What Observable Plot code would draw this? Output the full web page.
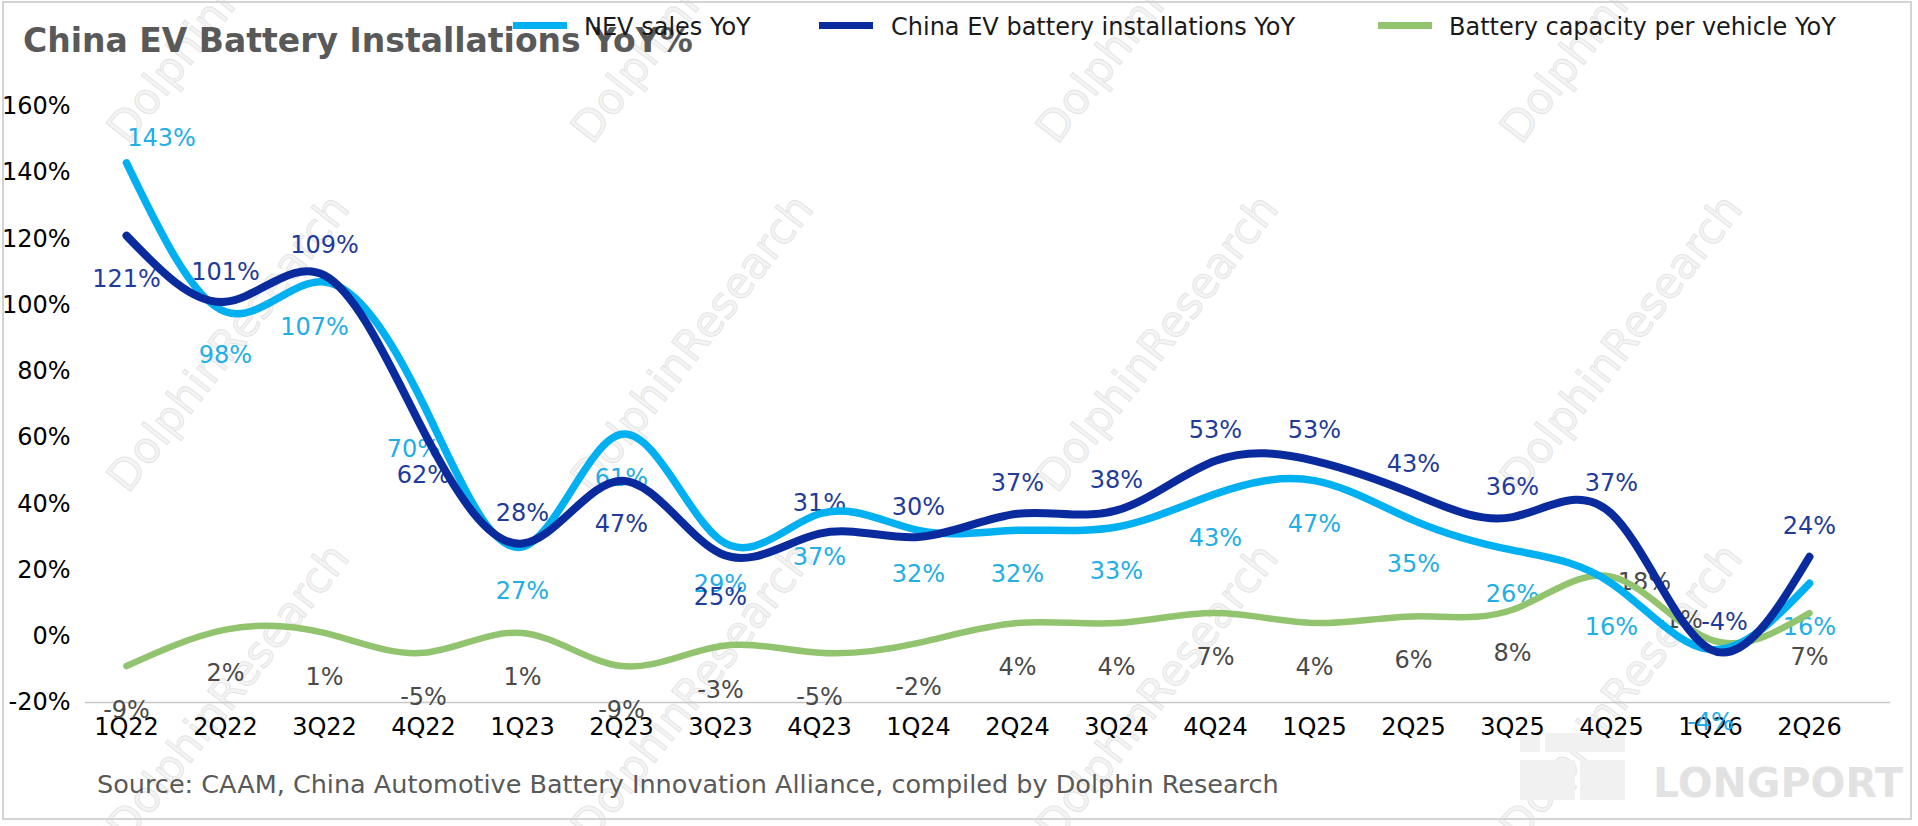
<!DOCTYPE html>
<html>
<head>
<meta charset="utf-8">
<script src="https://cdn.jsdelivr.net/npm/d3@7"></script>
<script src="https://cdn.jsdelivr.net/npm/@observablehq/plot@0.6"></script>
<style>
  html, body { margin: 0; padding: 0; background: #fff; }
  body { width: 1918px; height: 826px; overflow: hidden; font-family: "DejaVu Sans", sans-serif; }
  #wrap { position: relative; width: 1918px; height: 826px; }
  #wm { position: absolute; left: 0; top: 0; width: 1918px; height: 826px; overflow: hidden; z-index: 0; }
  .wmt { position: absolute; font-size: 43px; line-height: 43px; color: #f4f4f4; -webkit-text-stroke: 0.8px #e3e3e3; white-space: nowrap; transform: translate(-50%, -50%) rotate(-52deg); }
  #frame { position: absolute; left: 2px; top: 1px; width: 1906px; height: 815px; border: 2px solid #d4d4d4; pointer-events: none; z-index: 3; }
  #header { position: relative; height: 80px; z-index: 1; }
  #title { position: absolute; left: 23px; top: 24px; font-size: 33px; line-height: 33px; font-weight: bold; color: #595959; white-space: nowrap; }
  .leg { position: absolute; top: 15px; font-size: 24px; line-height: 24px; color: #1a1a1a; white-space: nowrap; }
  .sw { position: absolute; top: 22px; width: 54px; height: 7px; }
  #chart { position: relative; z-index: 1; }
  #footer { position: relative; height: 66px; z-index: 1; }
  #source { position: absolute; left: 97px; top: 12px; font-size: 25.5px; line-height: 25.5px; color: #595959; white-space: nowrap; }
  #lp { position: absolute; left: 1653px; top: 763px; font-size: 41px; line-height: 41px; font-weight: bold; color: #e2e2e2; white-space: nowrap; z-index: 2; }
  .lpb { position: absolute; background: #f1f1f1; z-index: 0; }
  #chart svg { display: block; }
</style>
</head>
<body>
<div id="wrap">
  <div id="wm"></div>
  <div class="lpb" style="left:1520px;top:733px;width:20px;height:19px"></div>
  <div class="lpb" style="left:1545px;top:733px;width:80px;height:19px"></div>
  <div class="lpb" style="left:1520px;top:760px;width:55px;height:40px"></div>
  <div class="lpb" style="left:1580px;top:760px;width:45px;height:40px"></div>
  <div id="header">
    <div id="title"></div>
  </div>
  <div id="chart"></div>
  <div id="footer"><div id="source"></div></div>
  <div id="lp">LONGPORT</div>
  <div id="frame"></div>
</div>
<script>
// ---- data ----
const titleText = "China EV Battery Installations YoY%";
const sourceText = "Source: CAAM, China Automotive Battery Innovation Alliance, compiled by Dolphin Research";
const watermarkText = "DolphinResearch";
const quarters = ["1Q22","2Q22","3Q22","4Q22","1Q23","2Q23","3Q23","4Q23","1Q24","2Q24","3Q24","4Q24","1Q25","2Q25","3Q25","4Q25","1Q26","2Q26"];
const seriesNames = ["NEV sales YoY", "China EV battery installations YoY", "Battery capacity per vehicle YoY"];
const nevSales   = [143, 98, 107, 70, 27, 61, 29, 37, 32, 32, 33, 43, 47, 35, 26, 16, -4, 16];
const batteryIns = [121, 101, 109, 62, 28, 47, 25, 31, 30, 37, 38, 53, 53, 43, 36, 37, -4, 24];
const capPerVeh  = [-9, 2, 1, -5, 1, -9, -3, -5, -2, 4, 4, 7, 4, 6, 8, 18, -1, 7];
const yTicks = [-20, 0, 20, 40, 60, 80, 100, 120, 140, 160];

// label placement codes (where each data label sits relative to its point)
const nevPos = ["tr","b","bl","bl","b","b","b","b","b","b","b","b","b","b","b","b","bb","b"];
const batPos = ["b","t","t","b","t","b","b","t","t","t","t","t","t","t","t","t","ur","t"];
const capPos = ["b","b","b","b","b","b","b","b","b","b","b","b","b","b","b","r","ul","b"];

// ---- styling ----
const colors = ["#00B0F0", "#0A2B9D", "#92C46F"];
const labelColors = ["#22AEE6", "#1F3B9B", "#4A4A4A"];
const widths = [7.5, 8, 6.5];
const offs = {t:[0,-30], b:[0,44], bb:[0,73], tr:[35,-24], bl:[-10,45], ur:[14,-27], r:[33,6], ul:[-31,-19]};

document.getElementById("title").textContent = titleText;
document.getElementById("source").textContent = sourceText;

// watermark grid (decorative)
const wm = document.getElementById("wm");
[228, 692, 1157, 1621].forEach(cx => [-6, 343, 692].forEach(cy => {
  const s = document.createElement("div");
  s.className = "wmt"; s.style.left = cx + "px"; s.style.top = cy + "px"; s.textContent = watermarkText;
  wm.appendChild(s);
}));

// legend
const header = document.getElementById("header");
const legX = [[513, 584], [819, 891], [1378, 1449]];
seriesNames.forEach((n, i) => {
  const sw = document.createElement("div");
  sw.className = "sw"; sw.style.left = legX[i][0] + "px"; sw.style.background = colors[i];
  header.appendChild(sw);
  const t = document.createElement("div");
  t.className = "leg"; t.style.left = legX[i][1] + "px"; t.textContent = n;
  header.appendChild(t);
});

const allVals = [nevSales, batteryIns, capPerVeh];
const allPos = [nevPos, batPos, capPos];
const rows = [];
allVals.forEach((vals, s) => vals.forEach((v, i) => rows.push({s, q: quarters[i], v, p: allPos[s][i]})));
const bySeries = s => rows.filter(d => d.s === s);

const curve = "natural";
const marks = [
  Plot.ruleY([-20], {stroke: "#c8c8c8", strokeWidth: 1.5})
];
// labels (drawn beneath lines as in the reference)
[2, 0, 1].forEach(s => {
  Object.keys(offs).forEach(code => {
    const data = bySeries(s).filter(d => d.p === code);
    if (!data.length) return;
    marks.push(Plot.text(data, {
      x: "q", y: "v", text: d => `${d.v}%`,
      dx: offs[code][0], dy: offs[code][1],
      fill: labelColors[s], fontSize: 24, textAnchor: "middle", lineAnchor: "middle"
    }));
  });
});
[2, 0, 1].forEach(s => {
  marks.push(Plot.line(bySeries(s), {x: "q", y: "v", stroke: colors[s], strokeWidth: widths[s], curve, strokeLinecap: "round", strokeLinejoin: "round"}));
});

const chart = Plot.plot({
  width: 1918,
  height: 680,
  marginLeft: 85,
  marginRight: 28,
  marginTop: 26,
  marginBottom: 58,
  style: {fontFamily: "DejaVu Sans", fontSize: "24px", color: "#000", background: "transparent", overflow: "visible"},
  x: {type: "point", domain: quarters, range: [124, 1810], padding: 0, label: null},
  y: {domain: [-20, 160], range: [622, 26], label: null},
  axis: null,
  marks: [
    Plot.axisY(yTicks, {tickSize: 0, tickPadding: 15, tickFormat: d => `${d}%`, fontSize: 24, fill: "#000"}),
    Plot.axisX(quarters, {tickSize: 0, tickPadding: 15, fontSize: 24, fill: "#000"}),
    ...marks
  ]
});
document.getElementById("chart").appendChild(chart);
</script>
</body>
</html>
